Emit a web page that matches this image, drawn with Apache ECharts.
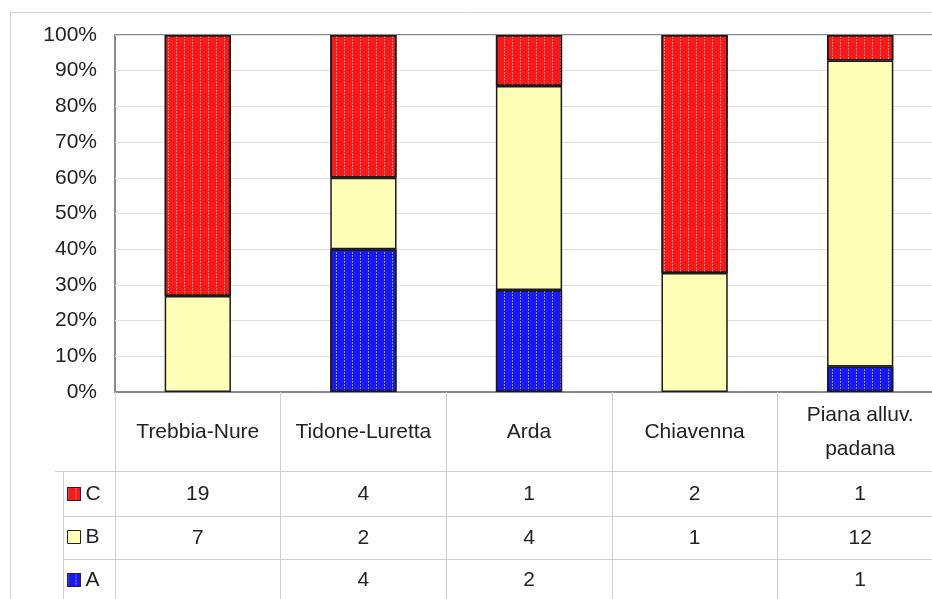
<!DOCTYPE html>
<html>
<head>
<meta charset="utf-8">
<script src="https://cdn.jsdelivr.net/npm/echarts@6/dist/echarts.min.js"></script>
<style>
html,body{margin:0;padding:0;background:#fff;}
#chart{width:932px;height:599px;}
</style>
</head>
<body>
<div id="chart"></div>
<script>
const categories = ['Trebbia-Nure', 'Tidone-Luretta', 'Arda', 'Chiavenna', 'Piana alluv.\npadana'];
const seriesNames = ['C', 'B', 'A'];
const countC = [19, 4, 1, 2, 1];
const countB = [7, 2, 4, 1, 12];
const countA = [null, 4, 2, null, 1];
const yTickMax = 100;
const yTickStep = 10;

const totals = categories.map((_, i) => (countC[i] || 0) + (countB[i] || 0) + (countA[i] || 0));
const pct = arr => arr.map((v, i) => v == null ? null : v / totals[i] * 100);
const rowLabels = arr => arr.map(v => v == null ? '' : String(v));

const FONT = '"Liberation Sans", Arial, sans-serif';
const TXT = '#222';

const dots = {
  symbol: 'rect', symbolSize: 1,
  dashArrayX: [1, 7], dashArrayY: [2, 1],
  color: 'rgba(255,255,255,0.5)'
};

const chart = echarts.init(document.getElementById('chart'), null, {renderer: 'canvas'});

function rowAxis(data, margin) {
  return {
    type: 'category', gridIndex: 0, position: 'bottom', data: data,
    axisLine: {show: false}, axisTick: {show: false}, splitLine: {show: false},
    axisLabel: {margin: margin, fontSize: 21, fontFamily: FONT, color: TXT, verticalAlign: 'middle', interval: 0}
  };
}

const option = {
  animation: false,
  backgroundColor: '#fff',
  grid: {left: 115, top: 35, width: 828, bottom: 207, outerBoundsMode: 'none', containLabel: false,
    show: true, borderColor: '#8a8a8a', borderWidth: 2, backgroundColor: 'transparent'},
  legend: {
    orient: 'vertical', left: 62, top: 478, itemGap: 21,
    itemWidth: 13, itemHeight: 13, icon: 'rect',
    data: seriesNames,
    itemStyle: {borderColor: '#222', borderWidth: 1},
    textStyle: {fontSize: 21, lineHeight: 22, fontFamily: FONT, color: TXT}
  },
  xAxis: [
    {
      type: 'category', data: categories,
      axisLine: {show: true, lineStyle: {color: '#8a8a8a', width: 2}},
      axisTick: {show: true, length: 207, interval: 0, lineStyle: {color: '#d0d0d0', width: 1}},
      axisLabel: {margin: 40, fontSize: 21, lineHeight: 34, fontFamily: FONT, color: TXT, verticalAlign: 'middle', interval: 0}
    },
    rowAxis(rowLabels(countC), 102),
    rowAxis(rowLabels(countB), 146),
    rowAxis(rowLabels(countA), 188)
  ],
  yAxis: {
    type: 'value', min: 0, max: yTickMax, interval: yTickStep,
    axisLine: {show: false}, axisTick: {show: false},
    splitLine: {show: true, lineStyle: {color: '#e2e2e2', width: 1}},
    axisLabel: {formatter: '{value}%', margin: 18, fontSize: 21, fontFamily: FONT, color: TXT}
  },
  series: [
    {name: 'A', type: 'bar', stack: 's', barWidth: '40%', data: pct(countA),
      itemStyle: {color: '#1818f0', borderColor: '#1a1a1a', borderWidth: 1.5, decal: dots}},
    {name: 'B', type: 'bar', stack: 's', barWidth: '40%', data: pct(countB),
      itemStyle: {color: '#ffffb8', borderColor: '#1a1a1a', borderWidth: 1.5}},
    {name: 'C', type: 'bar', stack: 's', barWidth: '40%', data: pct(countC),
      itemStyle: {color: '#f81a1a', borderColor: '#1a1a1a', borderWidth: 1.5, decal: dots}}
  ],
  graphic: [
    {type: 'rect', silent: true, z: -1, shape: {x: 10.5, y: 12.5, width: 1000, height: 1000}, style: {fill: 'none', stroke: '#d4d4d4', lineWidth: 1}},
    {type: 'line', silent: true, shape: {x1: 55, y1: 471.5, x2: 940, y2: 471.5}, style: {stroke: '#d0d0d0', lineWidth: 1}},
    {type: 'line', silent: true, shape: {x1: 63, y1: 516.5, x2: 940, y2: 516.5}, style: {stroke: '#d0d0d0', lineWidth: 1}},
    {type: 'line', silent: true, shape: {x1: 63, y1: 559.5, x2: 940, y2: 559.5}, style: {stroke: '#d0d0d0', lineWidth: 1}},
    {type: 'line', silent: true, shape: {x1: 63.5, y1: 471, x2: 63.5, y2: 600}, style: {stroke: '#d0d0d0', lineWidth: 1}}
  ]
};
chart.setOption(option);
</script>
</body>
</html>
